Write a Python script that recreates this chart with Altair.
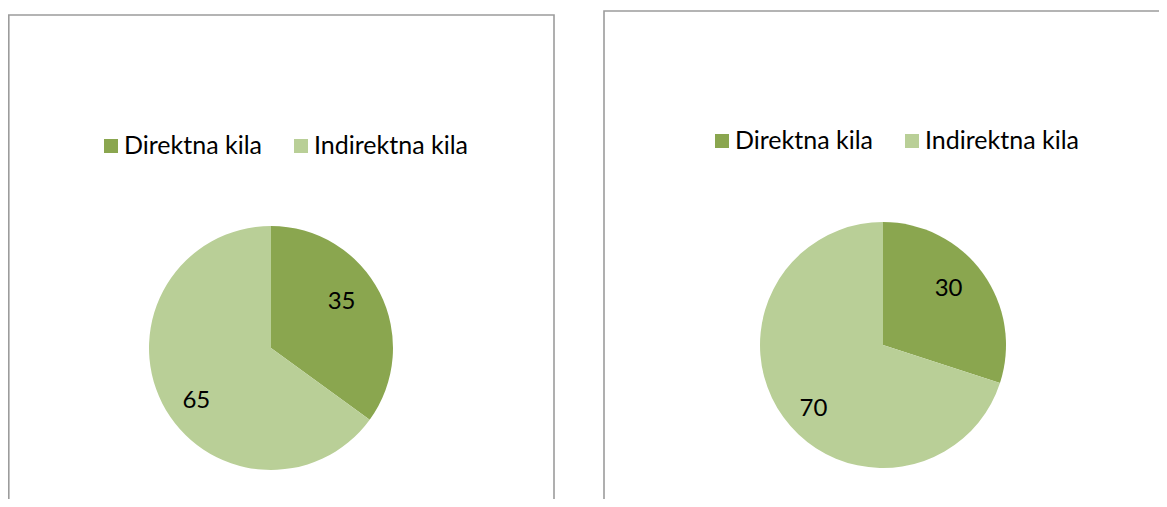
import altair as alt
import pandas as pd

categories = ["Direktna kila", "Indirektna kila"]
left_values = [35, 65]
right_values = [30, 70]
colors = ["#8aa64f", "#b9cf97"]

rows = []
for panel, vals in (("left", left_values), ("right", right_values)):
    for i, (c, v) in enumerate(zip(categories, vals)):
        rows.append({"panel": panel, "cat": c, "value": v, "order": i})
df = pd.DataFrame(rows)
leg = pd.DataFrame({"cat": categories, "order": [0, 1]})

W, H = 1151, 491
FONT = "Lato"

color = alt.Color("cat:N", scale=alt.Scale(domain=categories, range=colors), legend=None)

def pie(panel, cx, cy, r, lr, offsets):
    base = alt.Chart(df).transform_filter(alt.datum.panel == panel)
    arcs = base.mark_arc(outerRadius=r, stroke=None).encode(
        theta=alt.Theta("value:Q", stack=True),
        order=alt.Order("order:Q"),
        color=color,
        x=alt.value(cx), y=alt.value(cy),
    )
    out = [arcs]
    for i, (dx, dy) in enumerate(offsets):
        lab = base.transform_stack(
            stack="value", groupby=["panel"], as_=["v0", "v1"],
            sort=[alt.SortField("order")]
        ).transform_calculate(
            mid="(datum.v0 + datum.v1) / 2",
            total="datum.v1"
        ).transform_filter(alt.datum.order == i).mark_text(
            radius=lr, font=FONT, fontSize=24, color="#000000", dx=dx, dy=dy
        ).encode(
            theta=alt.Theta("mid:Q", scale=alt.Scale(domain=[0, 100], range=[0, 6.283185307179586])),
            text=alt.Text("value:Q"),
            x=alt.value(cx), y=alt.value(cy),
        )
        out.append(lab)
    return out

def legend(x_sq, x_tx, y):
    layers = []
    for i in range(2):
        d = leg[leg.order == i]
        layers.append(alt.Chart(d).mark_square(size=196, opacity=1).encode(
            x=alt.value(x_sq[i]), y=alt.value(y), color=color))
        layers.append(alt.Chart(d).mark_text(align="left", baseline="middle", font=FONT,
                                             fontSize=25, color="#000000").encode(
            x=alt.value(x_tx[i]), y=alt.value(y), text="cat:N"))
    return layers

frames = [
    alt.Chart(pd.DataFrame({"p": ["left"]})).mark_rect(fill=None, stroke="#9c9c9c", strokeWidth=1.6).encode(
        x=alt.value(0.8), x2=alt.value(546), y=alt.value(7), y2=alt.value(H + 20)),
    alt.Chart(pd.DataFrame({"p": ["right"]})).mark_rect(fill=None, stroke="#9c9c9c", strokeWidth=1.6).encode(
        x=alt.value(596), x2=alt.value(W + 20), y=alt.value(3), y2=alt.value(H + 20)),
]

layers = frames
layers += pie("left", 263, 340, 122, 86, [(-6, -7), (2, 14)])
layers += pie("right", 875, 337, 123, 86, [(-4, -5), (0, 13)])
layers += legend([103, 293], [116, 306], 138)
layers += legend([714, 904], [727, 917], 133)

chart = alt.layer(*layers).properties(
    width=W, height=H, padding=0,
    autosize=alt.AutoSizeParams(type="fit", contains="padding"),
).configure_view(stroke=None)

chart.save("out.html", embed_options={"renderer": "svg", "actions": False})
